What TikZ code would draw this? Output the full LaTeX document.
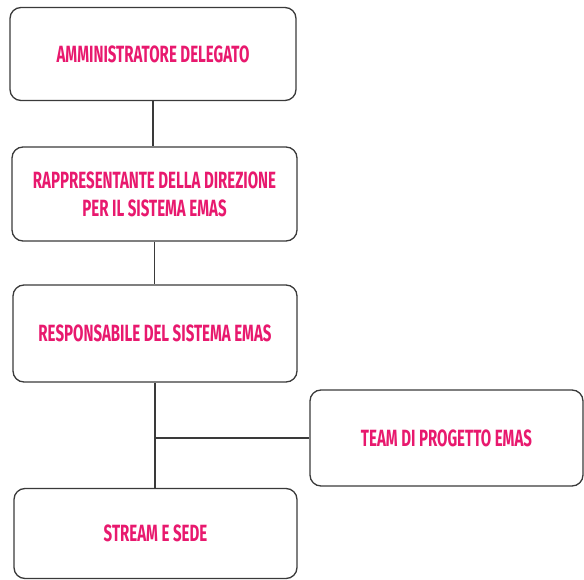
\documentclass[tikz,border=0pt]{standalone}
\usepackage{fontspec}
\newfontfamily\labelfont[FakeStretch=0.64]{Fira Sans}
\definecolor{lbl}{HTML}{E8196E}
\definecolor{edge}{HTML}{3A3A3A}
\begin{document}
\begin{tikzpicture}[x=1pt,y=-1pt,
  box/.style={draw=edge,line width=1.3pt,rounded corners=11pt,align=center,
    font=\labelfont\bfseries\fontsize{23.5}{28}\selectfont,text=lbl,inner sep=0pt},
  conn/.style={draw=edge,line width=1.3pt}]
\useasboundingbox (0,0) rectangle (584,580);
\node[box,minimum width=286pt,minimum height=93pt] (b1) at (153,54) {AMMINISTRATORE DELEGATO};
\node[box,minimum width=285pt,minimum height=94pt] (b2) at (154.5,194) {RAPPRESENTANTE DELLA DIREZIONE\\PER IL SISTEMA EMAS};
\node[box,minimum width=284pt,minimum height=97pt] (b3) at (155,333.5) {RESPONSABILE DEL SISTEMA EMAS};
\node[box,minimum width=273pt,minimum height=96pt] (b4) at (446.5,438) {TEAM DI PROGETTO EMAS};
\node[box,minimum width=283pt,minimum height=90pt] (b5) at (155.5,533.5) {STREAM E SEDE};
\draw[conn] (b1.south) -- (b1.south |- b2.north);
\draw[conn] (b2.south) -- (b2.south |- b3.north);
\draw[conn] (b3.south) -- (b3.south |- b5.north);
\coordinate (j) at (b3.south |- b4.west);
\draw[conn] (j) -- (b4.west);
\end{tikzpicture}
\end{document}
